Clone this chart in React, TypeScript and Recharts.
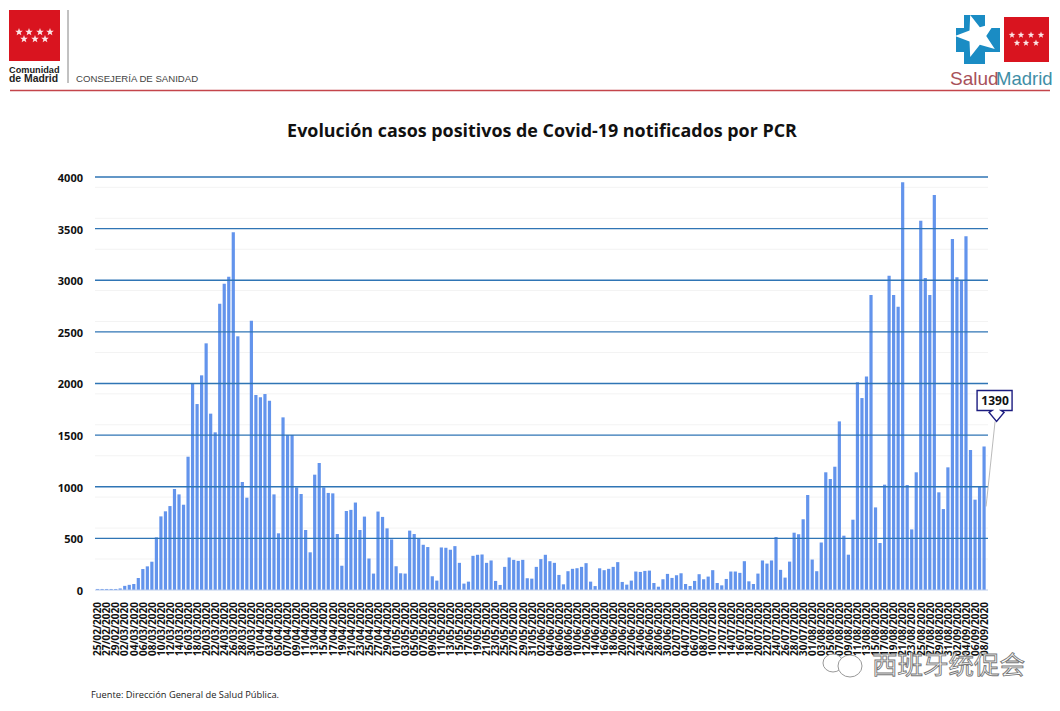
import { BarChart, Bar, XAxis, YAxis, CartesianGrid, ReferenceLine, LabelList } from "recharts";

const dates = [
  "25/02/2020", "26/02/2020", "27/02/2020", "28/02/2020", "29/02/2020",
  "01/03/2020", "02/03/2020", "03/03/2020", "04/03/2020", "05/03/2020", "06/03/2020", "07/03/2020", "08/03/2020", "09/03/2020", "10/03/2020",
  "11/03/2020", "12/03/2020", "13/03/2020", "14/03/2020", "15/03/2020", "16/03/2020", "17/03/2020", "18/03/2020", "19/03/2020", "20/03/2020",
  "21/03/2020", "22/03/2020", "23/03/2020", "24/03/2020", "25/03/2020", "26/03/2020", "27/03/2020", "28/03/2020", "29/03/2020", "30/03/2020", "31/03/2020",
  "01/04/2020", "02/04/2020", "03/04/2020", "04/04/2020", "05/04/2020", "06/04/2020", "07/04/2020", "08/04/2020", "09/04/2020", "10/04/2020",
  "11/04/2020", "12/04/2020", "13/04/2020", "14/04/2020", "15/04/2020", "16/04/2020", "17/04/2020", "18/04/2020", "19/04/2020", "20/04/2020",
  "21/04/2020", "22/04/2020", "23/04/2020", "24/04/2020", "25/04/2020", "26/04/2020", "27/04/2020", "28/04/2020", "29/04/2020", "30/04/2020",
  "01/05/2020", "02/05/2020", "03/05/2020", "04/05/2020", "05/05/2020", "06/05/2020", "07/05/2020", "08/05/2020", "09/05/2020", "10/05/2020",
  "11/05/2020", "12/05/2020", "13/05/2020", "14/05/2020", "15/05/2020", "16/05/2020", "17/05/2020", "18/05/2020", "19/05/2020", "20/05/2020",
  "21/05/2020", "22/05/2020", "23/05/2020", "24/05/2020", "25/05/2020", "26/05/2020", "27/05/2020", "28/05/2020", "29/05/2020", "30/05/2020", "31/05/2020",
  "01/06/2020", "02/06/2020", "03/06/2020", "04/06/2020", "05/06/2020", "06/06/2020", "07/06/2020", "08/06/2020", "09/06/2020", "10/06/2020",
  "11/06/2020", "12/06/2020", "13/06/2020", "14/06/2020", "15/06/2020", "16/06/2020", "17/06/2020", "18/06/2020", "19/06/2020", "20/06/2020",
  "21/06/2020", "22/06/2020", "23/06/2020", "24/06/2020", "25/06/2020", "26/06/2020", "27/06/2020", "28/06/2020", "29/06/2020", "30/06/2020",
  "01/07/2020", "02/07/2020", "03/07/2020", "04/07/2020", "05/07/2020", "06/07/2020", "07/07/2020", "08/07/2020", "09/07/2020", "10/07/2020",
  "11/07/2020", "12/07/2020", "13/07/2020", "14/07/2020", "15/07/2020", "16/07/2020", "17/07/2020", "18/07/2020", "19/07/2020", "20/07/2020",
  "21/07/2020", "22/07/2020", "23/07/2020", "24/07/2020", "25/07/2020", "26/07/2020", "27/07/2020", "28/07/2020", "29/07/2020", "30/07/2020", "31/07/2020",
  "01/08/2020", "02/08/2020", "03/08/2020", "04/08/2020", "05/08/2020", "06/08/2020", "07/08/2020", "08/08/2020", "09/08/2020", "10/08/2020",
  "11/08/2020", "12/08/2020", "13/08/2020", "14/08/2020", "15/08/2020", "16/08/2020", "17/08/2020", "18/08/2020", "19/08/2020", "20/08/2020",
  "21/08/2020", "22/08/2020", "23/08/2020", "24/08/2020", "25/08/2020", "26/08/2020", "27/08/2020", "28/08/2020", "29/08/2020", "30/08/2020", "31/08/2020",
  "01/09/2020", "02/09/2020", "03/09/2020", "04/09/2020", "05/09/2020", "06/09/2020", "07/09/2020", "08/09/2020",
];

const casos = [
  10, 10, 10, 10, 10, 15, 40, 50, 58, 116,
  203, 229, 274, 510, 713, 762, 813, 978, 926, 826,
  1291, 1995, 1801, 2079, 2389, 1708, 1527, 2773, 2967, 3034,
  3465, 2457, 1046, 894, 2608, 1888, 1866, 1898, 1833, 926,
  549, 1672, 1501, 1501, 994, 930, 581, 365, 1117, 1230,
  994, 940, 936, 542, 235, 765, 776, 847, 581, 711,
  305, 159, 760, 708, 597, 490, 230, 162, 159, 575,
  542, 500, 438, 416, 133, 91, 412, 409, 390, 425,
  263, 62, 81, 331, 341, 344, 263, 286, 88, 49,
  224, 315, 292, 282, 292, 114, 110, 224, 299, 341,
  279, 263, 146, 55, 182, 205, 211, 224, 260, 81,
  38, 210, 192, 205, 224, 270, 78, 52, 91, 179,
  175, 185, 188, 68, 32, 104, 156, 117, 143, 162,
  58, 39, 88, 153, 104, 130, 192, 68, 45, 107,
  179, 179, 166, 279, 84, 58, 159, 286, 256, 286,
  513, 195, 120, 275, 555, 540, 685, 920, 295, 182,
  460, 1140, 1075, 1194, 1633, 526, 342, 681, 2011, 1859,
  2069, 2857, 800, 455, 1020, 3044, 2857, 2744, 3948, 1017,
  587, 1140, 3577, 3021, 2857, 3825, 946, 784, 1188, 3399,
  3028, 2996, 3425, 1356, 875, 1004, 1390,
];

const yTicks = [0, 500, 1000, 1500, 2000, 2500, 3000, 3500, 4000];
const minorLines = [100, 200, 300, 400, 600, 700, 800, 900, 1100, 1200, 1300, 1400, 1600, 1700, 1800, 1900, 2100, 2200, 2300, 2400, 2600, 2700, 2800, 2900, 3100, 3200, 3300, 3400, 3600, 3700, 3800, 3900];
const data = dates.map((fecha, i) => ({ fecha, casos: casos[i] }));

const SANS = "'Open Sans', sans-serif";
const ARIAL = "'Liberation Sans', Arial, sans-serif";

const starPoints = (cx: number, cy: number, r: number, rot = 0) => {
  const pts: string[] = [];
  for (let i = 0; i < 10; i++) {
    const rad = i % 2 === 0 ? r : r * 0.42;
    const a = ((-90 + rot + i * 36) * Math.PI) / 180;
    pts.push(`${cx + rad * Math.cos(a)},${cy + rad * Math.sin(a)}`);
  }
  return pts.join(" ");
};

const Stars = ({ top, bottom, y1, y2, r }: any) => (
  <g fill="#fbe3e3">
    {top.map((x: number) => <polygon key={x} points={starPoints(x, y1, r)} />)}
    {bottom.map((x: number) => <polygon key={x} points={starPoints(x, y2, r)} />)}
  </g>
);

// etiqueta del ultimo dia, colgada de la barra
const Callout = ({ x, y, width, value, index }: any) => {
  if (index !== casos.length - 1) return null;
  const cx = x + width / 2 + 11;
  const top = y - 56;
  return (
    <g>
      <line x1={cx - 9} y1={y + 60} x2={cx} y2={top + 31} stroke="#a8a8a8" strokeWidth={0.8} />
      <path
        d={`M${cx - 18},${top} h35 v20 h-11 l3,2 l-7.5,9 l-7.5,-9 l3,-2 h-15 z`}
        fill="#fff"
        stroke="#1c1c80"
        strokeWidth={1.4}
      />
      <text x={cx} y={top + 15} textAnchor="middle" fontFamily={SANS} fontWeight={700} fontSize={12} fill="#111">
        {value}
      </text>
    </g>
  );
};

const Header = () => (
  <svg width={1060} height={711} style={{ position: "absolute", left: 0, top: 0 }}>
    <rect x={9} y={10} width={51} height={51} fill="#d9141f" />
    <Stars top={[19, 29, 40, 50]} bottom={[24, 35, 45]} y1={32} y2={39} r={4} />
    <text x={9} y={73} fontFamily={ARIAL} fontWeight={700} fontSize={9.2} fill="#222">Comunidad</text>
    <text x={9} y={82} fontFamily={ARIAL} fontWeight={700} fontSize={10.4} fill="#222">de Madrid</text>
    <line x1={68} y1={10} x2={68} y2={83} stroke="#666" strokeWidth={0.8} />
    <text x={76} y={82} fontFamily={ARIAL} fontSize={9.6} fill="#444">CONSEJERÍA DE SANIDAD</text>
    <line x1={10} y1={90.5} x2={1050} y2={90.5} stroke="#c4454b" strokeWidth={1.4} />

    <path d="M956,28 h8 v-13 h21 v13 h15 v24 h-15 v12 h-21 v-12 h-8 z" fill="#1a8cc4" />
    <polygon points={starPoints(977, 36, 22, -18)} fill="#fff" />
    <rect x={1004} y={17} width={45} height={45} fill="#d9141f" />
    <Stars top={[1012, 1021, 1031, 1041]} bottom={[1017, 1026, 1036]} y1={35} y2={43} r={3.4} />
    <text x={950} y={85} fontFamily={ARIAL} fontSize={19} fill="#a8515a">Salud</text>
    <text x={996} y={85} fontFamily={ARIAL} fontSize={18.5} fill="#3f8ea6">Madrid</text>

    <text x={542} y={137} textAnchor="middle" fontFamily={SANS} fontWeight={700} fontSize={17.9} fill="#111">
      Evolución casos positivos de Covid-19 notificados por PCR
    </text>
    <text x={91} y={698} fontFamily={SANS} fontSize={9.3} fill="#222">Fuente: Dirección General de Salud Pública.</text>
  </svg>
);

const Watermark = () => (
  <svg width={1060} height={711} style={{ position: "absolute", left: 0, top: 0 }}>
    <ellipse cx={833} cy={663} rx={10} ry={9} fill="#fff" stroke="#999" strokeWidth={1} />
    <ellipse cx={850} cy={666} rx={12} ry={11} fill="#fff" stroke="#999" strokeWidth={1} />
    <text
      x={872}
      y={674}
      fontFamily="'Noto Sans CJK SC'"
      fontSize={25.5}
      fill="#fff"
      stroke="#777"
      strokeWidth={0.9}
    >
      西班牙统促会
    </text>
  </svg>
);

export default function App() {
  return (
    <div style={{ position: "absolute", left: 0, top: 0, width: 1060, height: 711, background: "#fff" }}>
      <Header />
      <div style={{ position: "absolute", left: 0, top: 0 }}>
        <BarChart
          width={1060}
          height={711}
          data={data}
          barSize={3.2}
          margin={{ top: 177, right: 72, bottom: 0, left: 0 }}
        >
          <CartesianGrid vertical={false} horizontalValues={minorLines} stroke="#f3f3f3" />
          <XAxis
            dataKey="fecha"
            interval={1}
            height={121}
            angle={-90}
            textAnchor="end"
            tickLine={false}
            tickMargin={3}
            padding={{ right: 2 }}
            tick={{ fontFamily: SANS, fontWeight: 700, fontSize: 10, fill: "#111", dy: 3, dx: -3 }}
            axisLine={{ stroke: "#b9cbec" }}
          />
          <YAxis
            width={95}
            domain={[0, 4000]}
            ticks={yTicks}
            axisLine={false}
            tickLine={false}
            tickMargin={5}
            tick={{ fontFamily: SANS, fontWeight: 700, fontSize: 11, fill: "#111", dy: 1, dx: -1 }}
          />
          <Bar dataKey="casos" fill="#6394ec" isAnimationActive={false}>
            <LabelList dataKey="casos" content={<Callout />} />
          </Bar>
          {yTicks.filter((t) => t > 0).map((t) => (
            <ReferenceLine key={t} y={t} stroke="#2f75b5" strokeWidth={1.3} />
          ))}
        </BarChart>
      </div>
      <Watermark />
    </div>
  );
}
